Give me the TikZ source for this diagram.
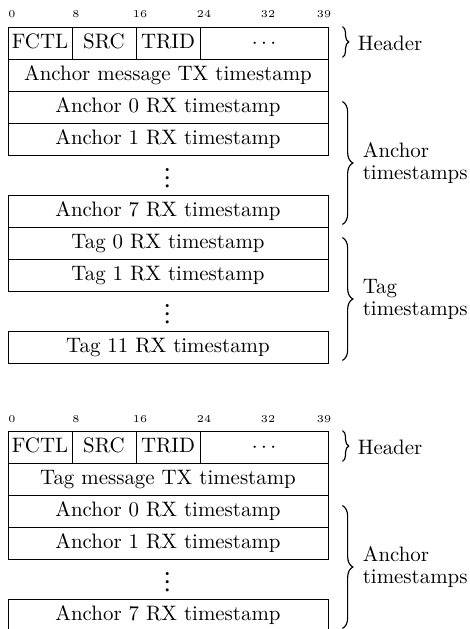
\documentclass[tikz,border=0pt]{standalone}
\usepackage{fontspec}
\usepackage{tikz}
\usetikzlibrary{calc,decorations.pathreplacing}

\newfontfamily\lmmath{latinmodern-math.otf}
\newcommand{\px}{0.4785pt}
\tikzset{
	field/.style={draw, inner sep=0pt, minimum height=32*\px, text height=6.94pt, text depth=1.94pt},
	row/.style={field, minimum width=320*\px},
	byte/.style={field, minimum width=64*\px},
	bitnum/.style={font=\tiny, anchor=base, inner sep=0pt},
	vdot/.style={inner sep=0pt, font={\lmmath\fontsize{14}{14}\selectfont}},
	grp/.style={decorate, decoration={brace, amplitude=#1}, line width=0.55pt},
	grplabel/.style={anchor=west, align=left, inner sep=0pt, font={\fontsize{10}{10.5}\selectfont}},
}

\begin{document}
\begin{tikzpicture}[x=\px, y=-\px]
	\useasboundingbox (0,0) rectangle (470,629);

	% anchor message
	\foreach \b in {0,8,16,24,32,39}
		\node[bitnum] (abit\b) at (12+8*\b,18) {\b};
	\node[byte] (afctl) at (40,43) {FCTL};
	\node[byte] (asrc) at (104,43) {SRC};
	\node[byte] (atrid) at (168,43) {TRID};
	\node[field, minimum width=128*\px] (arest) at (264,43) {$\cdots$};
	\node[row] (atx) at (168,75) {Anchor message TX timestamp};
	\node[row] (aanc0) at (168,107) {Anchor 0 RX timestamp};
	\node[row] (aanc1) at (168,139) {Anchor 1 RX timestamp};
	\node[vdot] (avd1) at (168,178) {⋮};
	\node[row] (aanc7) at (168,211) {Anchor 7 RX timestamp};
	\node[row] (atag0) at (168,243) {Tag 0 RX timestamp};
	\node[row] (atag1) at (168,275) {Tag 1 RX timestamp};
	\node[vdot] (avd2) at (168,314) {⋮};
	\node[row] (atag11) at (168,347) {Tag 11 RX timestamp};

	\draw[grp=3pt] ($(arest.north east)+(14,0)$) -- ($(arest.south east)+(14,-2)$);
	\node[grplabel] (ahdr) at ($(arest.east)+(29,0)$) {Header};
	\draw[grp=5pt] ($(aanc0.north east)+(14,11)$) -- ($(aanc7.south east)+(14,-3)$);
	\node[grplabel] (aancts) at ($(aanc0.north east)!0.5!(aanc7.south east)+(34,4)$) {Anchor\\timestamps};
	\draw[grp=5pt] ($(atag0.north east)+(14,11)$) -- ($(atag11.south east)+(14,-3)$);
	\node[grplabel] (atagts) at ($(atag0.north east)!0.5!(atag11.south east)+(34,4)$) {Tag\\timestamps};

	% tag message
	\foreach \b in {0,8,16,24,32,39}
		\node[bitnum] (bbit\b) at (12+8*\b,422) {\b};
	\node[byte] (bfctl) at (40,447) {FCTL};
	\node[byte] (bsrc) at (104,447) {SRC};
	\node[byte] (btrid) at (168,447) {TRID};
	\node[field, minimum width=128*\px] (brest) at (264,447) {$\cdots$};
	\node[row] (btx) at (168,479) {Tag message TX timestamp};
	\node[row] (banc0) at (168,511) {Anchor 0 RX timestamp};
	\node[row] (banc1) at (168,543) {Anchor 1 RX timestamp};
	\node[vdot] (bvd) at (168,582) {⋮};
	\node[row] (banc7) at (168,615) {Anchor 7 RX timestamp};

	\draw[grp=3pt] ($(brest.north east)+(14,0)$) -- ($(brest.south east)+(14,-2)$);
	\node[grplabel] (bhdr) at ($(brest.east)+(29,0)$) {Header};
	\draw[grp=5pt] ($(banc0.north east)+(14,11)$) -- ($(banc7.south east)+(14,-3)$);
	\node[grplabel] (bancts) at ($(banc0.north east)!0.5!(banc7.south east)+(34,4)$) {Anchor\\timestamps};
\end{tikzpicture}
\end{document}
